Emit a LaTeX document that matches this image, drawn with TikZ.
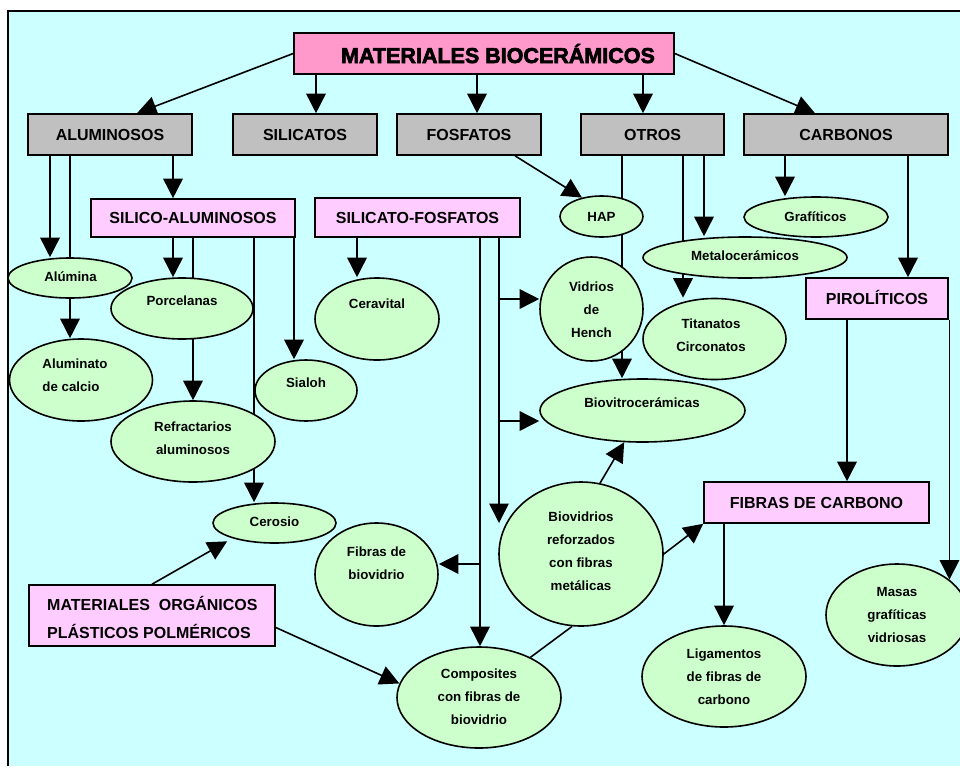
\documentclass[tikz,border=0pt]{standalone}
\usepackage{fontspec}
\setmainfont{Liberation Sans}
\newfontfamily\titlefont{Liberation Sans}[BoldFeatures={FakeBold=3}]
\usetikzlibrary{arrows.meta,shapes.geometric,calc}
\pgfdeclarelayer{bg}
\pgfdeclarelayer{edges}
\pgfsetlayers{bg,edges,main}
\definecolor{bgcyan}{HTML}{CCFFFF}
\definecolor{titlepink}{HTML}{FF99CC}
\definecolor{lightpink}{HTML}{FFCCFF}
\definecolor{lightgreen}{HTML}{CCFFCC}
\definecolor{boxgray}{HTML}{C0C0C0}
\tikzset{
  conn/.style={line width=1.6pt, draw=black},
  arr/.style={conn, -{Triangle[length=19.5pt,width=19.5pt]}},
  boxtext/.style={font=\bfseries\fontsize{16}{19}\selectfont, text height=11.5pt, text depth=0pt},
  graybox/.style={draw, line width=1.6pt, fill=boxgray, minimum height=41pt, inner sep=0pt, boxtext},
  pinkbox/.style={draw, line width=1.6pt, fill=lightpink, inner sep=0pt, boxtext},
  ellbox/.style={ellipse, draw, line width=1.6pt, fill=lightgreen, inner sep=0pt},
  elltext/.style={font=\bfseries\fontsize{13.3}{23}\selectfont, align=center, inner sep=0pt},
}
\newcommand\EllNode[8]{%
  \node[ellbox, minimum width=#4pt, minimum height=#5pt] (#1) at (#2,#3) {};
  \node[elltext] (#1T) at (#6,#7) {#8};}
\begin{document}
\begin{tikzpicture}[x=1pt,y=-1pt]
\useasboundingbox (0,0) rectangle (960,766);
\begin{pgfonlayer}{bg}
  \fill[bgcyan] (8,11) rectangle (960,766);
  \draw[line width=2.6pt] (8,766) -- (8,11) -- (960,11);
\end{pgfonlayer}

% title
\node[draw, line width=1.6pt, fill=titlepink, minimum width=380pt, minimum height=41pt, inner sep=0pt] (title) at (484,53.5) {};
\node[font=\titlefont\bfseries\fontsize{21.5}{24}\selectfont, inner sep=0pt, anchor=base] (titleT) at (498,63) {MATERIALES BIOCERÁMICOS};

% gray boxes
\node[graybox, minimum width=164pt] (alum) at (110,134.5) {ALUMINOSOS};
\node[graybox, minimum width=144pt] (silic) at (305,134.5) {SILICATOS};
\node[graybox, minimum width=144pt] (fosf) at (469,134.5) {FOSFATOS};
\node[graybox, minimum width=143pt] (otros) at (652.5,134.5) {OTROS};
\node[graybox, minimum width=204pt] (carb) at (846,134.5) {CARBONOS};

% pink boxes
\node[pinkbox, minimum width=204pt, minimum height=38pt] (silal) at (193,218) {SILICO-ALUMINOSOS};
\node[pinkbox, minimum width=205pt, minimum height=39pt] (silfos) at (417.5,217.5) {SILICATO-FOSFATOS};
\node[pinkbox, minimum width=142pt, minimum height=41pt] (pirol) at (877,298.5) {PIROLÍTICOS};
\node[pinkbox, minimum width=225pt, minimum height=41pt] (fibc) at (816.5,502.5) {FIBRAS DE CARBONO};
\node[pinkbox, minimum width=246pt, minimum height=61pt] (matorg) at (152,615.5) {};
\node[font=\bfseries\fontsize{16}{28}\selectfont, align=left, inner sep=0pt, anchor=west] (matorgT) at (47,617) {MATERIALES\ \ ORGÁNICOS\\PLÁSTICOS POLMÉRICOS};

% ellipses
\EllNode{alumina}{70}{278}{124}{40}{70.5}{277}{Alúmina}
\node[ellbox, minimum width=143pt, minimum height=82pt] (aluminato) at (81,380) {};
\node[elltext, align=left] (aluminatoT) at (75,375.5) {Aluminato\\de calcio};
\EllNode{porcel}{182}{308.5}{142}{61}{182}{301}{Porcelanas}
\EllNode{refr}{193}{441.5}{164}{81}{193}{438}{Refractarios\\aluminosos}
\EllNode{sialoh}{306}{390.5}{102}{61}{306}{383}{Sialoh}
\EllNode{cerosio}{274.5}{523}{123}{40}{274.5}{522}{Cerosio}
\EllNode{ceravital}{377}{319}{124}{82}{377}{304}{Ceravital}
\EllNode{hap}{601.5}{216.5}{83}{41}{601.5}{216.5}{HAP}
\EllNode{vidrios}{591.5}{309}{103}{104}{591.5}{310}{Vidrios\\de\\Hench}
\EllNode{biovit}{642.5}{410.5}{205}{63}{642}{403}{Biovitrocerámicas}
\EllNode{metal}{745}{257.5}{204}{41}{745}{256}{Metalocerámicos}
\EllNode{graf}{816}{217}{144}{40}{815.5}{217}{Grafíticos}
\EllNode{titan}{714.5}{339}{143}{81}{711}{335.5}{Titanatos\\Circonatos}
\EllNode{biovid}{581}{554}{164}{144}{581}{551.5}{Biovidrios\\reforzados\\con fibras\\metálicas}
\EllNode{ligam}{724}{676.5}{164}{101}{724}{677}{Ligamentos\\de fibras de\\carbono}
\EllNode{masas}{897}{615}{142}{102}{897}{615}{Masas\\grafíticas\\vidriosas}
\EllNode{fibbv}{376.5}{574.5}{123}{103}{376.5}{563.5}{Fibras de\\biovidrio}
\EllNode{compo}{479}{697.5}{164}{101}{479}{697}{Composites\\con fibras de\\biovidrio}

% column / row helpers
\foreach \cx in {50,70,173,193,254,294,316,357,477,480,499,622,643,683,704,724,785,847,908}
  \coordinate (c\cx) at (\cx,0);
\coordinate (r299) at (0,299);
\coordinate (r421) at (0,421);
\coordinate (r564) at (0,564);
\coordinate (bvtip) at (499,523);

\begin{pgfonlayer}{edges}
\draw[arr] (title.west) -- ([xshift=27pt]alum.north);
\draw[arr] (title.south -| c316) -- (silic.north -| c316);
\draw[arr] (title.south -| c477) -- (fosf.north -| c477);
\draw[arr] (title.south -| c643) -- (otros.north -| c643);
\draw[arr] (title.east) -- ([xshift=-31pt]carb.north);

\draw[arr] (alum.south -| c50) -- (alumina.north -| c50);
\draw[arr] (alum.south -| c70) -- (aluminato.north -| c70);
\draw[arr] (alum.south -| c173) -- (silal.north -| c173);
\draw[arr] (silal.south -| c173) -- (porcel.north -| c173);
\draw[arr] (silal.south -| c193) -- (refr.north -| c193);
\draw[arr] (silal.south -| c254) -- (cerosio.north -| c254);
\draw[arr] (silal.south -| c294) -- (sialoh.north -| c294);

\draw[arr] (silfos.south -| c357) -- (ceravital.north -| c357);
\draw[arr] (silfos.south -| c480) -- (compo.north -| c480);
\draw[arr] (c480 |- r564) -- (fibbv.east |- r564);
\draw[arr] (silfos.south -| c499) -- (bvtip);
\draw[arr] (c499 |- r299) -- (vidrios.west |- r299);
\draw[arr] (c499 |- r421) -- (biovit.west |- r421);

\draw[arr] ([xshift=46pt]fosf.south) -- (hap.136);
\draw[arr] (otros.south -| c622) -- (biovit.north -| c622);
\draw[arr] (otros.south -| c683) -- (titan.north -| c683);
\draw[arr] (otros.south -| c704) -- (metal.north -| c704);

\draw[arr] (carb.south -| c785) -- (graf.north -| c785);
\draw[arr] (carb.south -| c908) -- (pirol.north -| c908);
\draw[arr] (pirol.south -| c847) -- (fibc.north -| c847);
\draw[arr] (pirol.south -| masas.34) -- (masas.34);
\draw[arr] (fibc.south -| c724) -- (ligam.north -| c724);

\draw[arr] (biovid.east) -- (fibc.south west);
\draw[arr] (biovid.75) -- (biovit.240);
\draw[conn] (compo.38) -- (biovid.263);
\draw[arr, shorten >=6pt] (matorg.north) -- (cerosio.200);
\draw[arr] ([yshift=-12pt]matorg.east) -- (compo.170);
\end{pgfonlayer}
\end{tikzpicture}
\end{document}
